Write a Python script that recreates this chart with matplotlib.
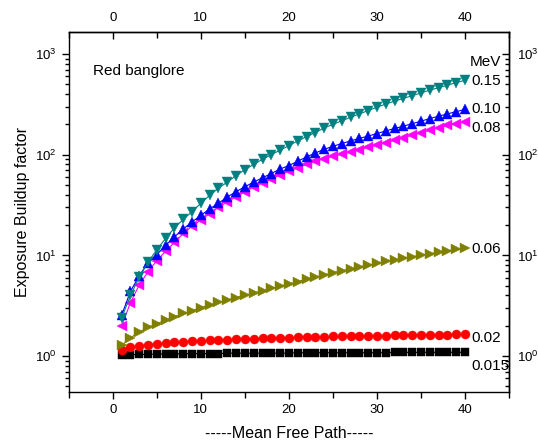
import matplotlib
matplotlib.use("Agg")
import matplotlib.pyplot as plt
from matplotlib.ticker import LogLocator, MultipleLocator, NullFormatter
import numpy as np

plt.rcParams["font.family"] = ["Liberation Sans", "DejaVu Sans"]
plt.rcParams["mathtext.fontset"] = "custom"
plt.rcParams["mathtext.rm"] = "Liberation Sans"
plt.rcParams["mathtext.it"] = "Liberation Sans:italic"

# mean free path (mfp)
mfp = list(range(1, 41))

# exposure buildup factor per photon energy (MeV)
ebf_0015 = [1.02, 1.03, 1.04, 1.04, 1.05, 1.05, 1.05, 1.06, 1.06, 1.06,
            1.06, 1.06, 1.07, 1.07, 1.07, 1.07, 1.07, 1.07, 1.07, 1.07,
            1.08, 1.08, 1.08, 1.08, 1.08, 1.08, 1.08, 1.08, 1.08, 1.08,
            1.08, 1.09, 1.09, 1.09, 1.09, 1.09, 1.09, 1.09, 1.09, 1.09]
ebf_002 = [1.14, 1.22, 1.27, 1.30, 1.33, 1.35, 1.37, 1.39, 1.41, 1.42,
           1.43, 1.45, 1.46, 1.47, 1.48, 1.49, 1.50, 1.51, 1.52, 1.53,
           1.54, 1.55, 1.55, 1.56, 1.57, 1.57, 1.58, 1.59, 1.59, 1.60,
           1.60, 1.61, 1.61, 1.62, 1.62, 1.63, 1.63, 1.63, 1.64, 1.64]
ebf_006 = [1.28, 1.52, 1.74, 1.93, 2.10, 2.28, 2.46, 2.65, 2.83, 3.03,
           3.22, 3.41, 3.62, 3.82, 4.02, 4.23, 4.46, 4.70, 4.95, 5.20,
           5.50, 5.80, 6.10, 6.40, 6.75, 7.05, 7.35, 7.70, 8.00, 8.35,
           8.70, 9.00, 9.35, 9.70, 10.05, 10.4, 10.75, 11.1, 11.5, 11.9]
ebf_008 = [2.0, 3.4, 5.1, 6.9, 8.9, 11.0, 13.5, 16.5, 19.5, 22.5,
           26, 30, 34, 38, 43, 48, 52.5, 57.5, 63, 68.5,
           74.5, 80, 86, 91, 96, 101, 106, 112, 118, 124,
           131, 139, 147, 156, 165, 175, 185, 195, 203, 211]
ebf_010 = [2.55, 4.4, 6.3, 8.4, 10.2, 12.6, 15.3, 18.3, 21.5, 25,
           29, 33, 38, 43, 48, 53.5, 59, 65, 72, 78,
           86, 95, 104, 113, 121, 129, 137, 145, 153, 162,
           172, 182, 192, 203, 215, 228, 241, 254, 267, 282]
ebf_015 = [2.4, 4.0, 6.1, 8.6, 11.4, 14.8, 18.8, 22.8, 27.2, 33,
           39.5, 46.5, 53.5, 62, 71, 80, 90, 100, 111, 123,
           137, 151, 166, 184, 200, 217, 235, 254, 274, 296,
           318, 340, 362, 385, 410, 437, 462, 490, 518, 548]

energy_labels = ["0.015", "0.02", "0.06", "0.08", "0.10", "0.15"]
label_y = [0.80, 1.51, 11.5, 184, 287, 540]

x_ticks = [0, 10, 20, 30, 40]
y_ticks = [1, 10, 100, 1000]

fig = plt.figure(figsize=(5.38, 4.45), dpi=100)
ax = fig.add_axes([0.128, 0.119, 0.818, 0.809])

series = [
    (ebf_0015, "s", "black", 5.5),
    (ebf_002, "o", "red", 6.5),
    (ebf_006, ">", "#808000", 7.0),
    (ebf_008, "<", "magenta", 7.0),
    (ebf_010, "^", "blue", 7.0),
    (ebf_015, "v", "#008080", 7.0),
]
for vals, mk, col, ms in series:
    ax.plot(mfp, vals, marker=mk, color=col, markersize=ms, linewidth=0.8,
            markeredgewidth=0.3)

ax.set_yscale("log")
ax.set_xlim(-5, 45)
ax.set_ylim(0.44, 1650)
ax.set_xticks(x_ticks)
ax.set_yticks(y_ticks)
ax.xaxis.set_minor_locator(MultipleLocator(5))
ax.yaxis.set_minor_locator(LogLocator(base=10, subs=np.arange(2, 10), numticks=10))
ax.yaxis.set_minor_formatter(NullFormatter())
ax.tick_params(which="both", direction="out", labelsize=9.5, width=1)
ax.tick_params(which="major", length=5)
ax.tick_params(which="minor", length=3)
ax.tick_params(axis="x", which="minor", length=4)

top = ax.secondary_xaxis("top")
top.set_xticks(x_ticks)
top.xaxis.set_minor_locator(MultipleLocator(5))
top.tick_params(which="both", direction="in", labelsize=9.5, width=1)
top.tick_params(which="major", length=5, pad=6)
top.tick_params(which="minor", length=4)

right = ax.secondary_yaxis("right")
right.set_yscale("log")
right.set_yticks(y_ticks)
right.yaxis.set_minor_locator(LogLocator(base=10, subs=np.arange(2, 10), numticks=10))
right.yaxis.set_minor_formatter(NullFormatter())
right.tick_params(which="both", direction="in", labelsize=9.5, width=1)
right.tick_params(which="major", length=5, pad=6)
right.tick_params(which="minor", length=3)

for sp in list(ax.spines.values()) + [top.spines["top"], right.spines["right"]]:
    sp.set_linewidth(1.0)

ax.set_xlabel("-----Mean Free Path-----", fontsize=11.5, labelpad=7)
ax.set_ylabel("Exposure Buildup factor", fontsize=11.5, labelpad=4)

ax.text(-2.3, 670, "Red banglore", fontsize=11, va="center")
ax.text(40.6, 835, "MeV", fontsize=11, va="center")
for lab, yv in zip(energy_labels, label_y):
    ax.text(40.7, yv, lab, fontsize=11, va="center")

fig.savefig("out.png", dpi=100)
